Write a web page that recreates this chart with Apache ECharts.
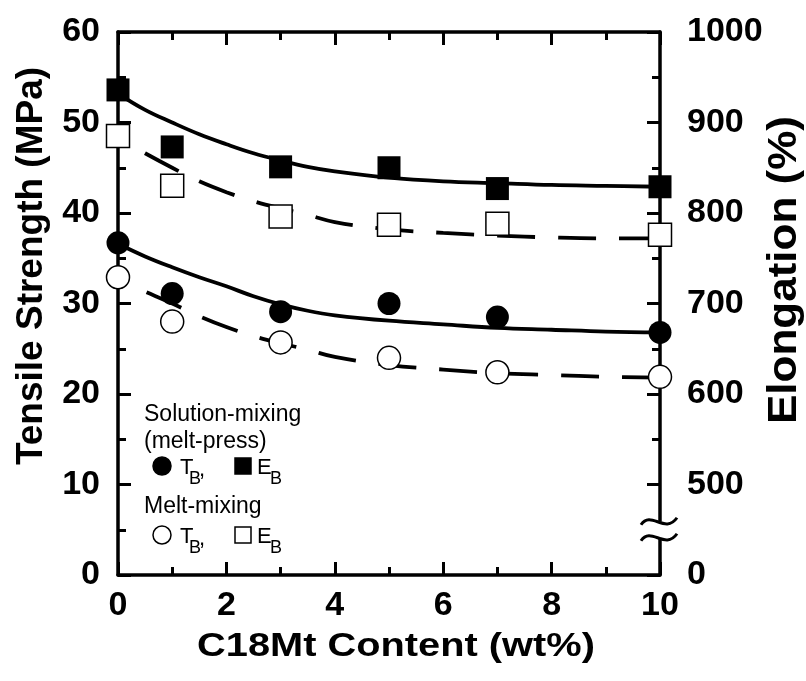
<!DOCTYPE html>
<html>
<head>
<meta charset="utf-8">
<script src="https://cdn.jsdelivr.net/npm/echarts@6/dist/echarts.min.js"></script>
<style>
  html, body { margin: 0; padding: 0; background: #fff; }
  #chart { width: 806px; height: 681px; }
</style>
</head>
<body>
<div id="chart"></div>
<script>
// C18Mt content (wt%)
const content = [0, 1, 3, 5, 7, 10];

// measured points, plotted on the tensile-strength scale (elongation = 400 + 10 * value)
const tbSolution = [36.7, 31.1, 29.1, 30.0, 28.5, 26.8];
const ebSolution = [53.6, 47.3, 45.1, 45.0, 42.7, 42.9];
const tbMelt = [32.9, 28.0, 25.7, 24.0, 22.4, 21.9];
const ebMelt = [48.5, 43.0, 39.6, 38.7, 38.8, 37.6];

// fitted curves
const curveX = [0, 0.5, 1, 1.5, 2, 2.5, 3, 3.5, 4, 5, 6, 7, 8, 9, 10];
const ebSolutionFit = [53.2, 51.4, 50.0, 48.7, 47.6, 46.6, 45.8, 45.1, 44.6, 43.9, 43.5, 43.3, 43.1, 43.0, 42.9];
const tbSolutionFit = [36.6, 35.2, 34.0, 32.9, 31.9, 30.8, 29.9, 29.2, 28.7, 28.1, 27.7, 27.3, 27.1, 26.9, 26.8];
const ebMeltFit = [48.3, 46.6, 45.0, 43.5, 42.3, 41.3, 40.5, 39.8, 39.0, 38.2, 37.8, 37.5, 37.3, 37.2, 37.2];
const tbMeltFit = [32.6, 31.3, 30.0, 28.6, 27.4, 26.4, 25.6, 24.9, 24.1, 23.2, 22.7, 22.3, 22.1, 21.9, 21.8];

const FONT = '"Liberation Sans", Arial, Helvetica, sans-serif';
const pairs = (xs, ys) => xs.map((x, i) => [x, ys[i]]);

const chart = echarts.init(document.getElementById('chart'), null, { renderer: 'canvas' });

const axisLine = { show: true, onZero: false, lineStyle: { color: '#000', width: 3.5 } };
const axisTick = { show: true, inside: true, length: 13, lineStyle: { color: '#000', width: 3 } };
const minorTick = { show: true, splitNumber: 2, length: 8, lineStyle: { color: '#000', width: 3 } };
const tickFont = { color: '#000', fontFamily: FONT, fontWeight: 'bold', fontSize: 34 };

function fitLine(data, dashed) {
  return {
    type: 'line', data: data, smooth: 0.4, showSymbol: false, silent: true, z: 2,
    lineStyle: dashed
      ? { color: '#000', width: 3.8, type: [38, 23], dashOffset: 30 }
      : { color: '#000', width: 3.8 },
  };
}
function points(data, symbol, filled) {
  return {
    type: 'scatter', data: data, symbol: symbol, symbolSize: 23, clip: false, z: 4,
    itemStyle: filled
      ? { color: '#000', opacity: 1 }
      : { color: '#fff', borderColor: '#000', borderWidth: 1.5, opacity: 1 },
  };
}

chart.setOption({
  animation: false,
  backgroundColor: '#fff',
  grid: { left: 118, right: 146, top: 32, bottom: 106, outerBoundsMode: 'none', containLabel: false },
  xAxis: [{
    type: 'value', min: 0, max: 10, interval: 2,
    axisLine, axisTick, minorTick, splitLine: { show: false },
    axisLabel: { ...tickFont, margin: 14 },
  }, {
    type: 'value', position: 'top', min: 0, max: 10, interval: 2,
    axisLine, axisTick, minorTick, splitLine: { show: false },
    axisLabel: { show: false },
  }],
  yAxis: [{
    type: 'value', min: 0, max: 60, interval: 10,
    axisLine, axisTick, minorTick, splitLine: { show: false },
    axisLabel: { ...tickFont, margin: 18 },
  }, {
    type: 'value', position: 'right', min: 400, max: 1000, interval: 100,
    axisLine, axisTick, minorTick, splitLine: { show: false },
    axisLabel: { ...tickFont, margin: 27, formatter: v => (v === 400 ? '0' : String(v)) },
  }],
  series: [
    fitLine(pairs(curveX, ebSolutionFit), false),
    fitLine(pairs(curveX, tbSolutionFit), false),
    fitLine(pairs(curveX, ebMeltFit), true),
    fitLine(pairs(curveX, tbMeltFit), true),
    points(pairs(content, ebSolution), 'rect', true),
    points(pairs(content, ebMelt), 'rect', false),
    points(pairs(content, tbSolution), 'circle', true),
    points(pairs(content, tbMelt), 'circle', false),
  ],
});

// axis titles, axis break on the elongation axis, and the in-plot key
const [bx, by] = chart.convertToPixel({ xAxisIndex: 0, yAxisIndex: 0 }, [10, 5]);
function wave(dy) {
  return {
    type: 'bezierCurve', z: 10,
    shape: { x1: bx - 19, y1: by + dy + 3, x2: bx + 17, y2: by + dy - 4,
             cpx1: bx - 9, cpy1: by + dy - 12, cpx2: bx + 5, cpy2: by + dy + 13 },
    style: { stroke: '#000', lineWidth: 3, fill: null },
  };
}
function txt(x, y, s, size) {
  return { type: 'text', x: x, y: y, z: 10,
    style: { text: s, fill: '#000', font: `${size}px ${FONT}`, verticalAlign: 'middle', align: 'left' } };
}
function title(x, y, s, size, rot, stretch) {
  return { type: 'text', x: x, y: y, rotation: rot, scaleX: stretch, z: 10,
    style: { text: s, fill: '#000', font: `bold ${size}px ${FONT}`, verticalAlign: 'middle', align: 'center' } };
}
function keyRow(y, filled) {
  const fill = filled ? '#000' : '#fff';
  return [
    { type: 'circle', z: 10, shape: { cx: 162, cy: y, r: 9 }, style: { fill, stroke: '#000', lineWidth: 1.5 } },
    txt(180, y + 2, 'T', 22), txt(189, y + 13, 'B', 18), txt(199, y + 4, ',', 22),
    { type: 'rect', z: 10, shape: { x: 235, y: y - 8, width: 16, height: 16 }, style: { fill, stroke: '#000', lineWidth: 1.5 } },
    txt(257, y + 2, 'E', 22), txt(270, y + 13, 'B', 18),
  ];
}
chart.setOption({
  graphic: [
    title(396, 647, 'C18Mt Content (wt%)', 34, 0, 1.17),
    title(32, 266, 'Tensile Strength (MPa)', 37, Math.PI / 2, 1),
    title(785, 270, 'Elongation (%)', 40, Math.PI / 2, 1.1),
    { type: 'rect', z: 9, shape: { x: bx - 11, y: by - 8, width: 14, height: 16 }, style: { fill: '#fff' } },
    wave(-8), wave(8),
    txt(144, 415, 'Solution-mixing', 23),
    txt(144, 442, '(melt-press)', 23),
    ...keyRow(466, true),
    txt(144, 507, 'Melt-mixing', 23),
    ...keyRow(535, false),
  ],
});
</script>
</body>
</html>
